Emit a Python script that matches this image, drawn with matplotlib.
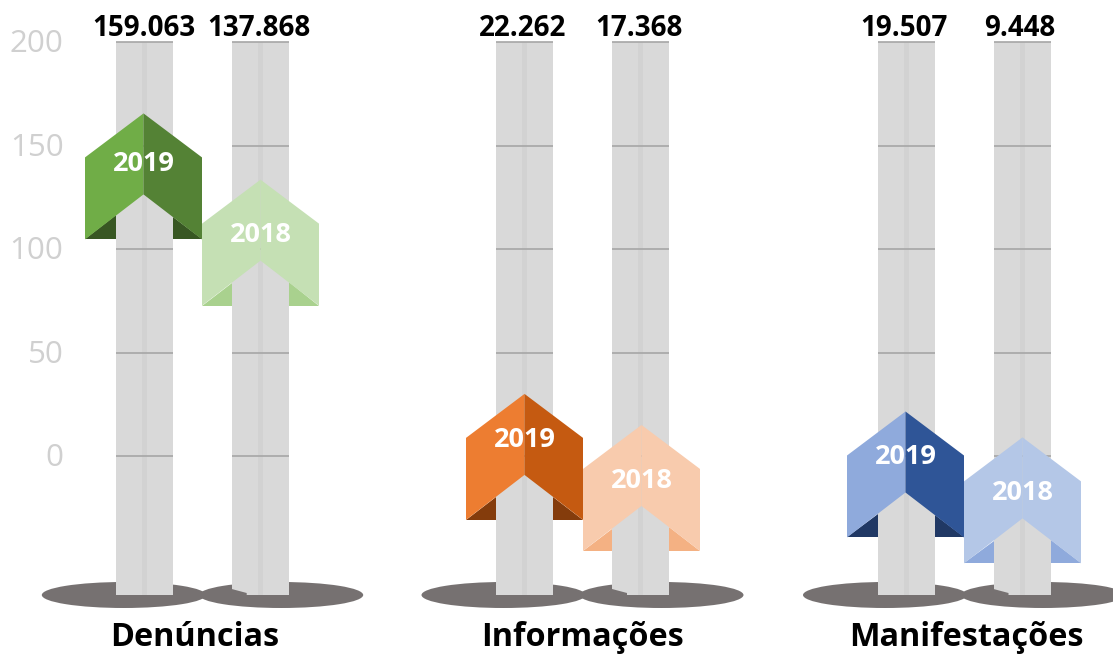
import matplotlib

matplotlib.use("Agg")
import matplotlib.pyplot as plt
from matplotlib.patches import Ellipse, Polygon, Rectangle

plt.rcParams["font.family"] = ["Open Sans", "DejaVu Sans"]

categories = ["Denúncias", "Informações", "Manifestações"]
years = ["2019", "2018"]
value_labels = [["159.063", "137.868"], ["22.262", "17.368"], ["19.507", "9.448"]]
# arrow tip height on the y axis
tip_2019 = [165.5, 30.0, 21.5]
tip_2018 = [133.5, 15.0, 9.0]
y_ticks = [0, 50, 100, 150, 200]

# x layout in pixels, y in axis units
group_x = [[144.8, 260.2], [524.5, 640.5], [906.0, 1022.0]]
arrow_x = [[143.5, 260.5], [524.5, 641.5], [905.5, 1022.5]]
value_x = [[144.0, 259.0], [522.5, 639.0], [904.0, 1019.5]]
cat_x = [194.5, 583.0, 966.0]
# pixels from arrow tip down to the year label
year_drop = [[50.5, 55.5], [46.5, 56.0], [45.5, 56.0]]
BAR_HALF = 28.5
ARROW_HALF = 58.5
PX = 2.07  # pixels per y unit
BAR_BOTTOM = (456 - 595) / PX
SHOULDER = 44 / PX
NOTCH = 81 / PX
TAIL = 126 / PX

colors_2019 = [("#70AD47", "#548235", "#385723"),
               ("#ED7D31", "#C55A11", "#843C0C"),
               ("#8FAADC", "#2F5597", "#203864")]
colors_2018 = [("#C5E0B4", "#C5E0B4", "#A9D18E"),
               ("#F8CBAD", "#F8CBAD", "#F4B183"),
               ("#B4C7E7", "#B4C7E7", "#8FAADC")]


def draw_arrow(ax, x, bar_x, tip, cols):
    light, dark, inner = cols
    left, right = x - ARROW_HALF, x + ARROW_HALF
    low = tip - TAIL
    notch = tip - NOTCH
    # fold triangles sit behind the two faces
    for side, bar_edge in ((left, bar_x - BAR_HALF), (right, bar_x + BAR_HALF)):
        rise = low + (notch - low) * abs(side - bar_edge) / ARROW_HALF
        ax.add_patch(Polygon([(side, low), (bar_edge, low), (bar_edge, rise)], color=inner, lw=0, zorder=4))
    ax.add_patch(Polygon([(x, tip), (left, tip - SHOULDER), (left, low), (x, notch)], color=light, lw=0, zorder=5))
    ax.add_patch(Polygon([(x, tip), (right, tip - SHOULDER), (right, low), (x, notch)], color=dark, lw=0, zorder=5))


fig = plt.figure(figsize=(11.13, 6.55), dpi=100)
ax = fig.add_axes([0, 0, 1, 1])
ax.set_xlim(0, 1113)
ax.set_ylim(-199 / PX, 456 / PX)
ax.axis("off")

for tick in y_ticks:
    ax.text(63.5, tick - 1.0, str(tick), ha="right", va="center", fontsize=22.5, color="#d0d0d0")

for g, cat in enumerate(categories):
    centers = group_x[g]
    for i, x in enumerate(centers):
        ax.add_patch(Ellipse((x + (-21 if i == 0 else 21), BAR_BOTTOM), 164, 26 / PX,
                             color="#767171", lw=0, zorder=1))
    for i, x in enumerate(centers):
        ax.add_patch(Rectangle((x - BAR_HALF, BAR_BOTTOM), 2 * BAR_HALF, 200 - BAR_BOTTOM,
                               color="#d9d9d9", lw=0, zorder=2))
        ax.add_patch(Rectangle((x - 2.5, BAR_BOTTOM), 5, 200 - BAR_BOTTOM,
                               color="#d2d2d2", lw=0, zorder=2.1))
        ax.hlines(y_ticks, x - BAR_HALF, x + BAR_HALF, color="#a6a6a6", lw=1.2, zorder=3)
        ax.text(value_x[g][i], 199.5, value_labels[g][i], ha="center", va="bottom", fontsize=20,
                fontweight="bold", color="black", zorder=7)
    # the second bar's lower left corner is cut by the shadow
    cut_x = centers[1] - BAR_HALF
    ax.add_patch(Polygon([(cut_x, BAR_BOTTOM), (cut_x, BAR_BOTTOM + 6 / PX), (cut_x + 15, BAR_BOTTOM + 2 / PX),
                          (cut_x + 15, BAR_BOTTOM)], color="#767171", lw=0, zorder=2.2))
    draw_arrow(ax, arrow_x[g][0], centers[0], tip_2019[g], colors_2019[g])
    draw_arrow(ax, arrow_x[g][1], centers[1], tip_2018[g], colors_2018[g])
    for i, tip in enumerate((tip_2019[g], tip_2018[g])):
        ax.text(arrow_x[g][i], tip - year_drop[g][i] / PX, years[i], ha="center", va="center", fontsize=19.5,
                fontweight="bold", color="white", zorder=6)
    ax.text(cat_x[g], -182 / PX, cat, ha="center", va="center", fontsize=23.3,
            fontweight="bold", color="black")

fig.savefig("out.png", dpi=100)
